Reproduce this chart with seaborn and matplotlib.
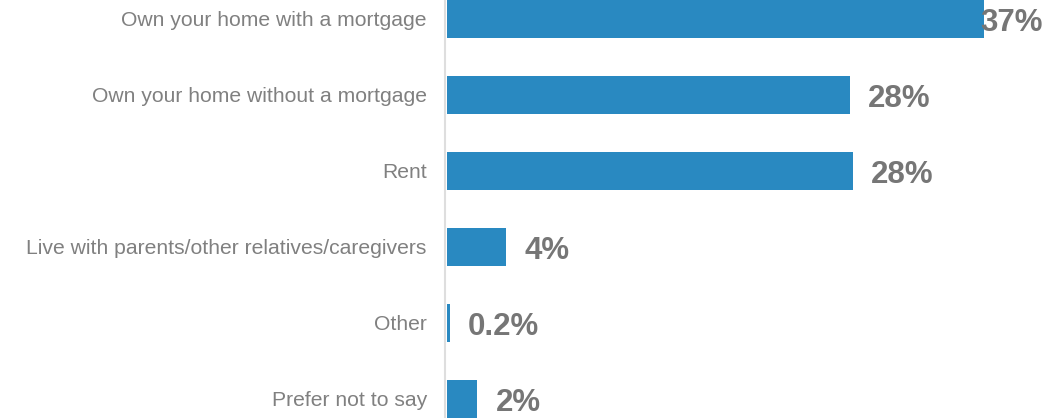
import matplotlib
matplotlib.use("Agg")
import matplotlib.pyplot as plt
import seaborn as sns
import pandas as pd

categories = [
    "Own your home with a mortgage",
    "Own your home without a mortgage",
    "Rent",
    "Live with parents/other relatives/caregivers",
    "Other",
    "Prefer not to say",
]
values = [37.0, 27.8, 28.0, 4.1, 0.2, 2.1]
labels = ["37%", "28%", "28%", "4%", "0.2%", "2%"]

df = pd.DataFrame({"category": categories, "value": values})

sns.set_theme(style="white")
plt.rcParams["font.family"] = ["Liberation Sans", "DejaVu Sans"]

W, H, DPI = 1054, 418, 100
fig = plt.figure(figsize=(W / DPI, H / DPI), dpi=DPI)
ax_left = 447 / W
ax = fig.add_axes([ax_left, 0, 1 - ax_left, 1])

bar_color = "#2989c1"
text_gray = "#767676"
cat_gray = "#808080"

sns.barplot(data=df, x="value", y="category", orient="h", color=bar_color,
            width=0.5, saturation=1, linewidth=0, ax=ax)

px_per_unit = 14.5
ax.set_xlim(0, (W - 447) / px_per_unit)
ax.set_ylim(5.25, -0.25)

for s in ["top", "right", "bottom"]:
    ax.spines[s].set_visible(False)
ax.spines["left"].set_color("#dedede")
ax.spines["left"].set_linewidth(1.5)
ax.spines["left"].set_position(("outward", 1.5))
ax.set_xticks([])
ax.set_xlabel("")
ax.set_ylabel("")
ax.tick_params(axis="y", length=0, pad=13, labelsize=15.2, labelcolor=cat_gray)

fig.canvas.draw()
renderer = fig.canvas.get_renderer()
right_limit = 1043
for i, (v, lab) in enumerate(zip(values, labels)):
    t = ax.annotate(lab, xy=(v, i), xytext=(13, -3), textcoords="offset points",
                    ha="left", va="center", fontsize=22.5, fontweight="bold",
                    color=text_gray, annotation_clip=False)
    bb = t.get_window_extent(renderer)
    if bb.x1 > right_limit:
        shift_pt = (bb.x1 - right_limit) * 72 / DPI
        t.set_position((13 - shift_pt, -3))

fig.savefig("out.png", dpi=DPI)
